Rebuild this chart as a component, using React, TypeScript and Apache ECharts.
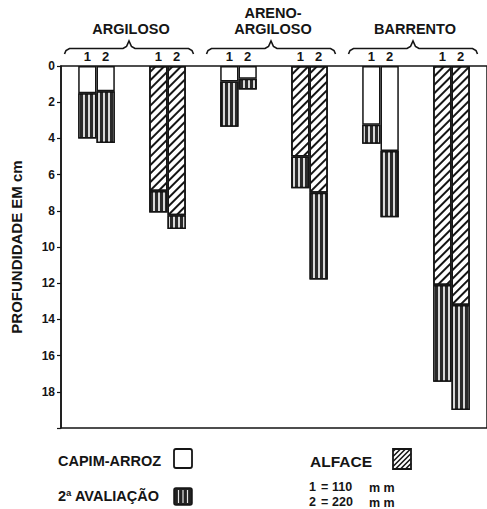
import React, { useEffect, useRef } from "react";
import * as echarts from "echarts";

// ---- data (depth in cm) ----
const soils = ["ARGILOSO", "ARENO-\nARGILOSO", "BARRENTO"];
const species = ["CAPIM-ARROZ", "ALFACE"];
const categories = [
  "ARGILOSO / CAPIM-ARROZ",
  "ARGILOSO / ALFACE",
  "ARENO-ARGILOSO / CAPIM-ARROZ",
  "ARENO-ARGILOSO / ALFACE",
  "BARRENTO / CAPIM-ARROZ",
  "BARRENTO / ALFACE",
];
// 1 = 110 mm
const firstEval1 = [1.5, 6.9, 0.85, 5.0, 3.25, 12.1];
const total1 = [4.0, 8.1, 3.35, 6.75, 4.3, 17.45];
// 2 = 220 mm
const firstEval2 = [1.4, 8.25, 0.7, 7.0, 4.7, 13.2];
const total2 = [4.25, 9.0, 1.3, 11.8, 8.35, 19.0];
const yTicks = [0, 2, 4, 6, 8, 10, 12, 14, 16, 18];
const irrigationLabels = ["1", "2"];

const FONT = "'Liberation Sans', Arial, sans-serif";
const INK = "#151515";

const hatchDecal = {
  symbol: "rect",
  symbolSize: 1,
  dashArrayX: [1, 0],
  dashArrayY: [1.4, 3.6],
  rotation: -Math.PI / 4,
  color: INK,
};
const vertDecal = {
  symbol: "rect",
  symbolSize: 1,
  dashArrayX: [1, 0],
  dashArrayY: [1.2, 2.6],
  rotation: Math.PI / 2,
  color: "#d8d8d8",
};

function firstItems(vals: number[]) {
  return vals.map((v, i) => {
    const isAlface = species[i % 2] === "ALFACE";
    return {
      value: v,
      itemStyle: isAlface
        ? { color: "#ffffff", decal: hatchDecal }
        : { color: "#ffffff" },
    };
  });
}
function secondItems(first: number[], total: number[]) {
  return total.map((t, i) => +(t - first[i]).toFixed(3));
}

const barBase = {
  type: "bar" as const,
  barWidth: 18.3,
  barGap: "0%",
};

function hatchLines(x0: number, y0: number, w: number, h: number, step: number) {
  const x1 = x0 + w;
  const y1 = y0 + h;
  const out: any[] = [];
  for (let c = x0 + y0 + step / 2; c < x1 + y1; c += step) {
    const xs = Math.max(x0, c - y1);
    const xe = Math.min(x1, c - y0);
    if (xe <= xs) continue;
    out.push({
      type: "line",
      shape: { x1: xs, y1: c - xs, x2: xe, y2: c - xe },
      style: { stroke: INK, lineWidth: 1.6 },
    });
  }
  return out;
}

export default function App() {
  const ref = useRef<HTMLDivElement>(null);

  useEffect(() => {
    if (!ref.current) return;
    const chart = echarts.init(ref.current, undefined, { renderer: "svg" });
    const labelFor = (k: number) => ({
      show: true,
      position: "top",
      distance: 3,
      formatter: () => irrigationLabels[k],
      color: INK,
      fontFamily: FONT,
      fontWeight: "bold",
      fontSize: 13,
    });
    const option: any = {
      animation: false,
      backgroundColor: "#ffffff",
      grid: {
        left: 61,
        top: 66,
        right: -7,
        bottom: 81,
        show: true,
        borderColor: INK,
        borderWidth: 1.5,
        containLabel: false,
      },
      xAxis: {
        type: "category",
        data: categories,
        axisLine: { show: false },
        axisTick: { show: false },
        axisLabel: { show: false },
        splitLine: { show: false },
      },
      yAxis: {
        type: "value",
        inverse: true,
        min: 0,
        max: 20,
        interval: 2,
        name: "PROFUNDIDADE EM cm",
        nameLocation: "middle",
        nameGap: 37,
        nameRotate: 90,
        nameTextStyle: {
          fontFamily: FONT,
          fontWeight: "bold",
          fontSize: 15,
          color: INK,
        },
        axisLine: { show: true, lineStyle: { color: INK, width: 1.5 } },
        axisTick: { show: true, length: 4, lineStyle: { color: INK, width: 1.2 } },
        axisLabel: {
          margin: 6,
          fontFamily: FONT,
          fontWeight: "bold",
          fontSize: 12,
          color: INK,
          formatter: (v: number) => (yTicks.includes(v) ? String(v) : ""),
        },
        splitLine: { show: false },
      },
      series: [
        {
          ...barBase,
          name: "1 - 1ª avaliação",
          stack: "s1",
          data: firstItems(firstEval1),
          itemStyle: { borderColor: INK, borderWidth: 1.5 },
          label: labelFor(0),
        },
        {
          ...barBase,
          name: "1 - 2ª avaliação",
          stack: "s1",
          data: secondItems(firstEval1, total1),
          itemStyle: { color: "#2a2a2a", decal: vertDecal, borderColor: INK, borderWidth: 1.5 },
        },
        {
          ...barBase,
          name: "2 - 1ª avaliação",
          stack: "s2",
          data: firstItems(firstEval2),
          itemStyle: { borderColor: INK, borderWidth: 1.5 },
          label: labelFor(1),
        },
        {
          ...barBase,
          name: "2 - 2ª avaliação",
          stack: "s2",
          data: secondItems(firstEval2, total2),
          itemStyle: { color: "#2a2a2a", decal: vertDecal, borderColor: INK, borderWidth: 1.5 },
        },
      ],
    };
    chart.setOption(option);

    // group labels and braces, positioned from the category axis
    const graphics: any[] = [];
    soils.forEach((soil, g) => {
      const cA = chart.convertToPixel({ xAxisIndex: 0 }, 2 * g) as number;
      const cB = chart.convertToPixel({ xAxisIndex: 0 }, 2 * g + 1) as number;
      const x0 = cA - 32;
      const x1 = cB + 26;
      const pk = (x0 + x1) / 2;
      graphics.push({
        type: "polyline",
        shape: {
          points: [
            [x0, 54],
            [x0 + 1.5, 50.5],
            [x0 + 5, 48.5],
            [pk - 6, 48.5],
            [pk - 2.5, 46.5],
            [pk, 41],
            [pk + 2.5, 46.5],
            [pk + 6, 48.5],
            [x1 - 5, 48.5],
            [x1 - 1.5, 50.5],
            [x1, 54],
          ],
        },
        style: { stroke: INK, lineWidth: 1.6, fill: "none" },
      });
      graphics.push({
        type: "text",
        x: pk + 2,
        y: 37,
        style: {
          text: soil,
          fill: INK,
          fontFamily: FONT,
          fontWeight: "bold",
          fontSize: 14.5,
          lineHeight: 16,
          align: "center",
          verticalAlign: "bottom",
        },
      });
    });

    const txt = (text: string, x: number, y: number, size = 14.5) => ({
      type: "text",
      x,
      y,
      style: {
        text,
        fill: INK,
        fontFamily: FONT,
        fontWeight: "bold",
        fontSize: size,
        align: "left",
        verticalAlign: "middle",
      },
    });

    // legend
    graphics.push(txt("CAPIM-ARROZ", 58, 461));
    graphics.push({
      type: "rect",
      shape: { x: 174, y: 449, width: 18, height: 19, r: 2 },
      style: { fill: "#fff", stroke: INK, lineWidth: 1.8 },
    });
    graphics.push(txt("2ª AVALIAÇÃO", 58, 496));
    graphics.push({
      type: "rect",
      shape: { x: 174, y: 488, width: 18, height: 17, r: 2 },
      style: { fill: "#222", stroke: INK, lineWidth: 1.5 },
    });
    [178.5, 183, 187.5].forEach((x) =>
      graphics.push({
        type: "line",
        shape: { x1: x, y1: 490, x2: x, y2: 503 },
        style: { stroke: "#e6e6e6", lineWidth: 1.2 },
      })
    );
    graphics.push(txt("ALFACE", 310, 461, 15.5));
    graphics.push({
      type: "rect",
      shape: { x: 393, y: 449, width: 18, height: 20 },
      style: { fill: "#fff", stroke: INK, lineWidth: 1.8 },
    });
    hatchLines(393, 449, 18, 20, 5).forEach((l) => graphics.push(l));
    graphics.push(txt("1", 309, 487, 12.5));
    graphics.push(txt("=", 321, 487, 12.5));
    graphics.push(txt("110", 332, 487, 12.5));
    graphics.push(txt("m m", 369, 488, 12.5));
    graphics.push(txt("2", 309, 502, 12.5));
    graphics.push(txt("=", 321, 502, 12.5));
    graphics.push(txt("220", 332, 502, 12.5));
    graphics.push(txt("m m", 369, 503, 12.5));

    chart.setOption({ graphic: graphics });

    return () => chart.dispose();
  }, []);

  return (
    <div
      ref={ref}
      style={{ position: "fixed", left: 0, top: 0, width: 487, height: 509, background: "#fff" }}
    />
  );
}
